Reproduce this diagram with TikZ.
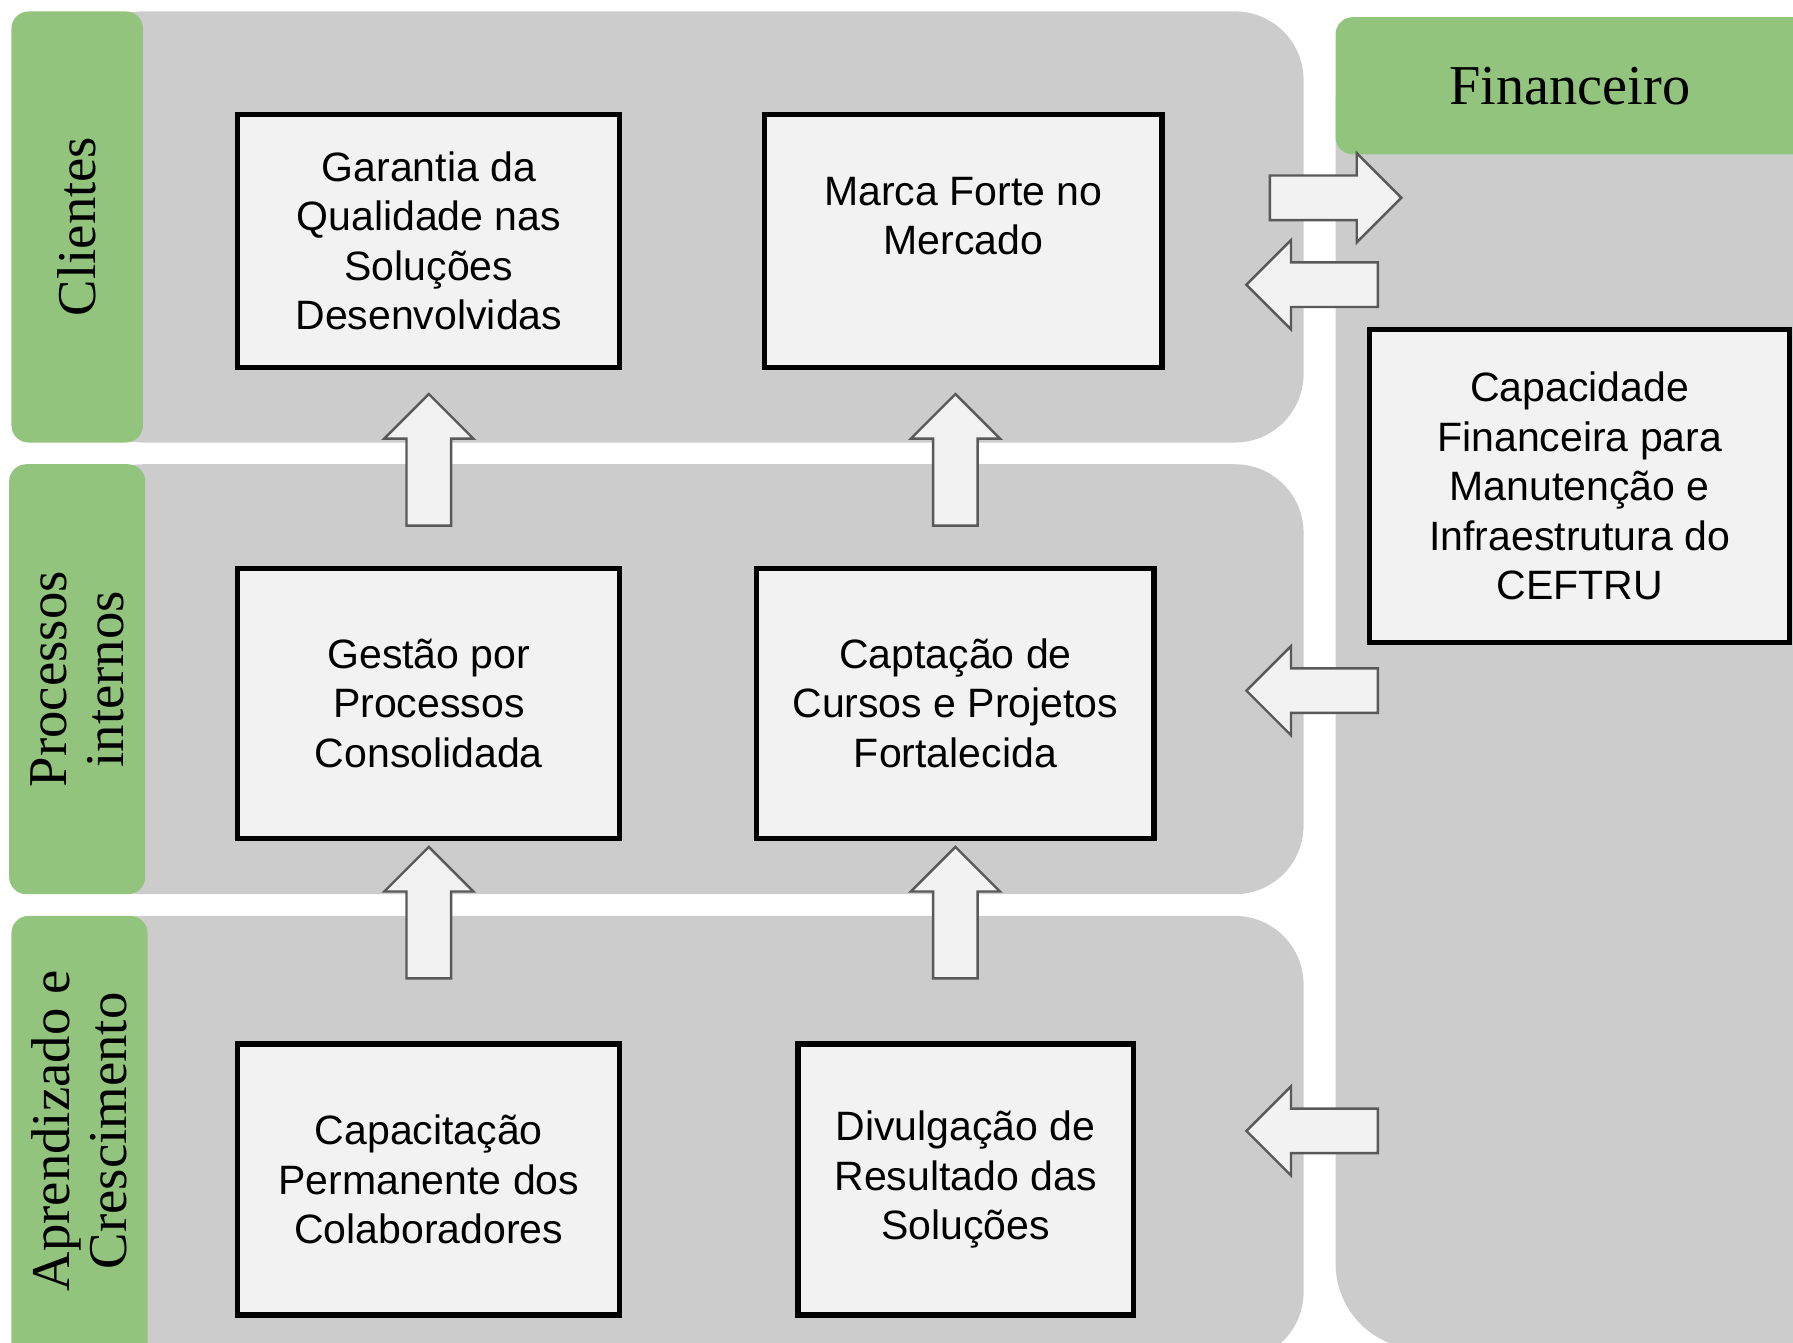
\documentclass[tikz,border=0pt]{standalone}
\usepackage{fontspec}
\setmainfont{Liberation Sans}
\newfontfamily\persfont{Liberation Serif}
\usetikzlibrary{calc}

\definecolor{bandgray}{HTML}{CCCCCC}
\definecolor{tabgreen}{HTML}{93C47D}
\definecolor{boxfill}{HTML}{F2F2F2}
\definecolor{arrowgray}{HTML}{595959}

\tikzset{
  band/.style={fill=bandgray, rounded corners=0.6cm},
  tab/.style={fill=tabgreen, rounded corners=0.15cm},
  tablabel/.style={rotate=90, align=center, inner sep=0pt,
    font=\persfont\fontsize{13.6}{14.2}\selectfont},
  goal/.style={draw=black, line width=1.3pt, fill=boxfill, align=center,
    inner sep=0pt, font=\fontsize{10.2}{12.3}\selectfont},
  arrowbox/.style={draw=arrowgray, line width=0.6pt, fill=boxfill}
}

% block arrow: centre, rotation (0 = right)
\newcommand{\blockarrow}[2]{%
  \draw[arrowbox, shift={(#1)}, rotate=#2] (-57.5,-19.5) -- (18.5,-19.5) -- (18.5,-39)
    -- (57.5,0) -- (18.5,39) -- (18.5,19.5) -- (-57.5,19.5) -- cycle;}

\begin{document}
\begin{tikzpicture}[x=0.01cm, y=-0.01cm]
	\useasboundingbox (0,0) rectangle (1568,1174);
	\clip (0,0) rectangle (1568,1174);

	% bands
	\fill [band] (65,10) rectangle (1140,387);
	\fill [band] (65,406) rectangle (1140,782);
	\fill [band] (65,801) rectangle (1140,1190);
	\fill [band, rounded corners=0.75cm] (1168,15) rectangle (1640,1180);

	% perspectives
	\fill [tab] (10,10) rectangle (125,387);
	\node [tablabel] (clientes) at (67,198) {Clientes};
	\fill [tab] (8,406) rectangle (127,782);
	\node [tablabel] (processos) at (68,594) {Processos\\internos};
	\fill [tab] (10,801) rectangle (129,1200);
	\node [tablabel] (aprendizado) at (69,989) {Aprendizado e\\Crescimento};
	\fill [tab] (1168,15) rectangle (1640,135);
	\node [font=\persfont\fontsize{14}{16}\selectfont] (financeiro) at (1373,75) {Financeiro};

	% objectives
	\node [goal, minimum width=3.34cm, minimum height=2.21cm] (garantia) at (375,210.5)
		{Garantia da\\Qualidade nas\\Soluções\\Desenvolvidas};
	\node [goal, minimum width=3.47cm, minimum height=2.21cm] (marca) at (842.5,210.5)
		{Marca Forte no\\Mercado\\~};
	\node [goal, minimum width=3.34cm, minimum height=2.36cm] (gestao) at (375,615)
		{Gestão por\\Processos\\Consolidada};
	\node [goal, minimum width=3.47cm, minimum height=2.36cm] (captacao) at (835.5,615)
		{Captação de\\Cursos e Projetos\\Fortalecida};
	\node [goal, minimum width=3.34cm, minimum height=2.37cm] (capacitacao) at (375,1031.5)
		{Capacitação\\Permanente dos\\Colaboradores};
	\node [goal, minimum width=2.93cm, minimum height=2.37cm] (divulgacao) at (844.5,1031.5)
		{Divulgação de\\Resultado das\\Soluções};
	\node [goal, minimum width=3.67cm, minimum height=2.74cm] (capacidade) at (1381.5,425)
		{Capacidade\\Financeira para\\Manutenção e\\Infraestrutura do\\CEFTRU};

	% arrows up
	\coordinate (up1) at ($(gestao.north)+(0,-92.5)$);
	\coordinate (up2) at ($(captacao.north)+(0,-92.5)$);
	\coordinate (up3) at ($(capacitacao.north)+(0,-112.5)$);
	\coordinate (up4) at ($(capacitacao.north -| captacao.north)+(0,-112.5)$);
	\blockarrow{up1}{90}
	\blockarrow{up2}{90}
	\blockarrow{up3}{90}
	\blockarrow{up4}{90}

	% arrows to and from financeiro
	\coordinate (tofin) at (1168,173);
	\coordinate (fromfin1) at (1147.5,249);
	\coordinate (fromfin2) at (1147.5,604);
	\coordinate (fromfin3) at (1147.5,989);
	\blockarrow{tofin}{0}
	\blockarrow{fromfin1}{180}
	\blockarrow{fromfin2}{180}
	\blockarrow{fromfin3}{180}
\end{tikzpicture}
\end{document}
